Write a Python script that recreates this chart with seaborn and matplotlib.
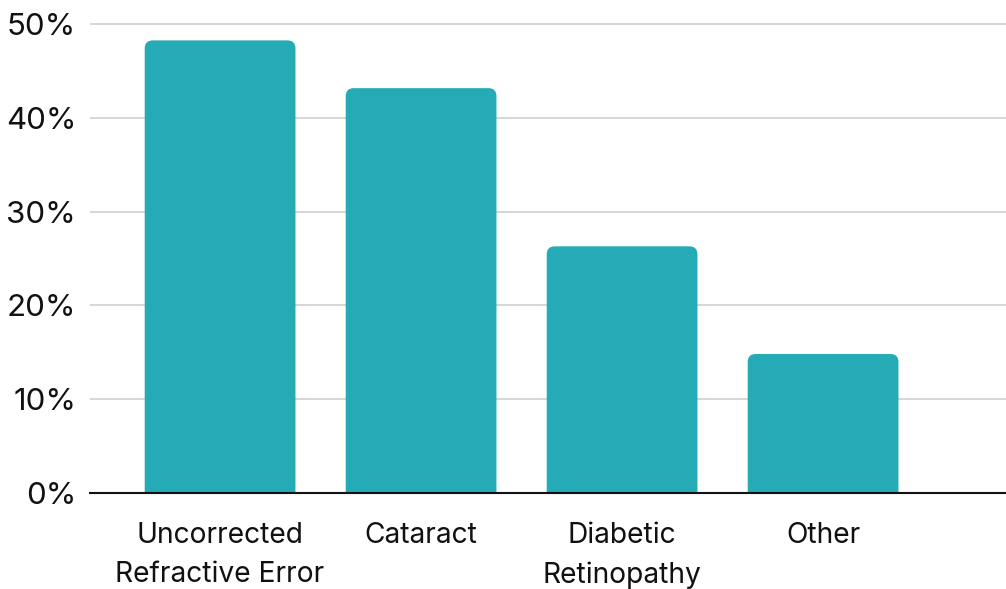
import matplotlib
matplotlib.use("Agg")
import matplotlib.pyplot as plt
import seaborn as sns
import pandas as pd
from matplotlib.patches import FancyBboxPatch
from matplotlib.ticker import FuncFormatter, MultipleLocator

# Share of visual impairment by cause (%)
causes = ["Uncorrected\nRefractive Error", "Cataract", "Diabetic\nRetinopathy", "Other"]
shares = [48.3, 43.2, 26.3, 14.8]
y_ticks = [0, 10, 20, 30, 40, 50]

bar_color = "#24ABB5"

sns.set_theme(style="white")
plt.rcParams["font.family"] = ["Inter", "DejaVu Sans"]

df = pd.DataFrame({"cause": causes, "share": shares})

W, H, DPI = 10.06, 5.89, 100
fig = plt.figure(figsize=(W, H), dpi=DPI)
ax = fig.add_axes([0.0895, 0.1638, 0.9105, 0.8264])

sns.barplot(data=df, x="cause", y="share", color=bar_color, width=0.75,
            saturation=1, ax=ax, zorder=3)

ymax = 52
ax.set_ylim(0, ymax)
ax.set_xlim(-0.647, 3.91)

# Replace the plain rectangles with bars that have rounded top corners
fig.canvas.draw()
bbox = ax.get_window_extent()
px_per_x = bbox.width / (ax.get_xlim()[1] - ax.get_xlim()[0])
px_per_y = bbox.height / (ymax - 0)
aspect = px_per_x / px_per_y
radius_px = 8
r = radius_px / px_per_x
for p in list(ax.patches):
    x0, w, h = p.get_x(), p.get_width(), p.get_height()
    p.remove()
    extra = r * aspect * 2
    fb = FancyBboxPatch((x0, -extra), w, h + extra,
                        boxstyle=f"round,pad=0,rounding_size={r}",
                        mutation_aspect=aspect, facecolor=bar_color,
                        edgecolor="none", zorder=3, clip_on=True)
    ax.add_patch(fb)

ax.set_yticks(y_ticks)
ax.yaxis.set_major_formatter(FuncFormatter(lambda v, _: f"{v:.0f}%"))
ax.grid(axis="y", color="#d6d6d6", linewidth=1.4, zorder=0)
ax.grid(axis="x", visible=False)

for s in ["left", "right", "top"]:
    ax.spines[s].set_visible(False)
ax.spines["bottom"].set_color("#111111")
ax.spines["bottom"].set_linewidth(1.5)
ax.spines["bottom"].set_zorder(4)

ax.tick_params(axis="y", length=0, pad=10, labelsize=22.5, labelcolor="#111111")
ax.tick_params(axis="x", length=0, pad=21, labelsize=20.3, labelcolor="#111111")
for lbl in ax.get_xticklabels():
    lbl.set_linespacing(1.6)
    lbl.set_verticalalignment("top")

ax.set_xlabel("")
ax.set_ylabel("")

fig.savefig("out.png", dpi=DPI, facecolor="white")
